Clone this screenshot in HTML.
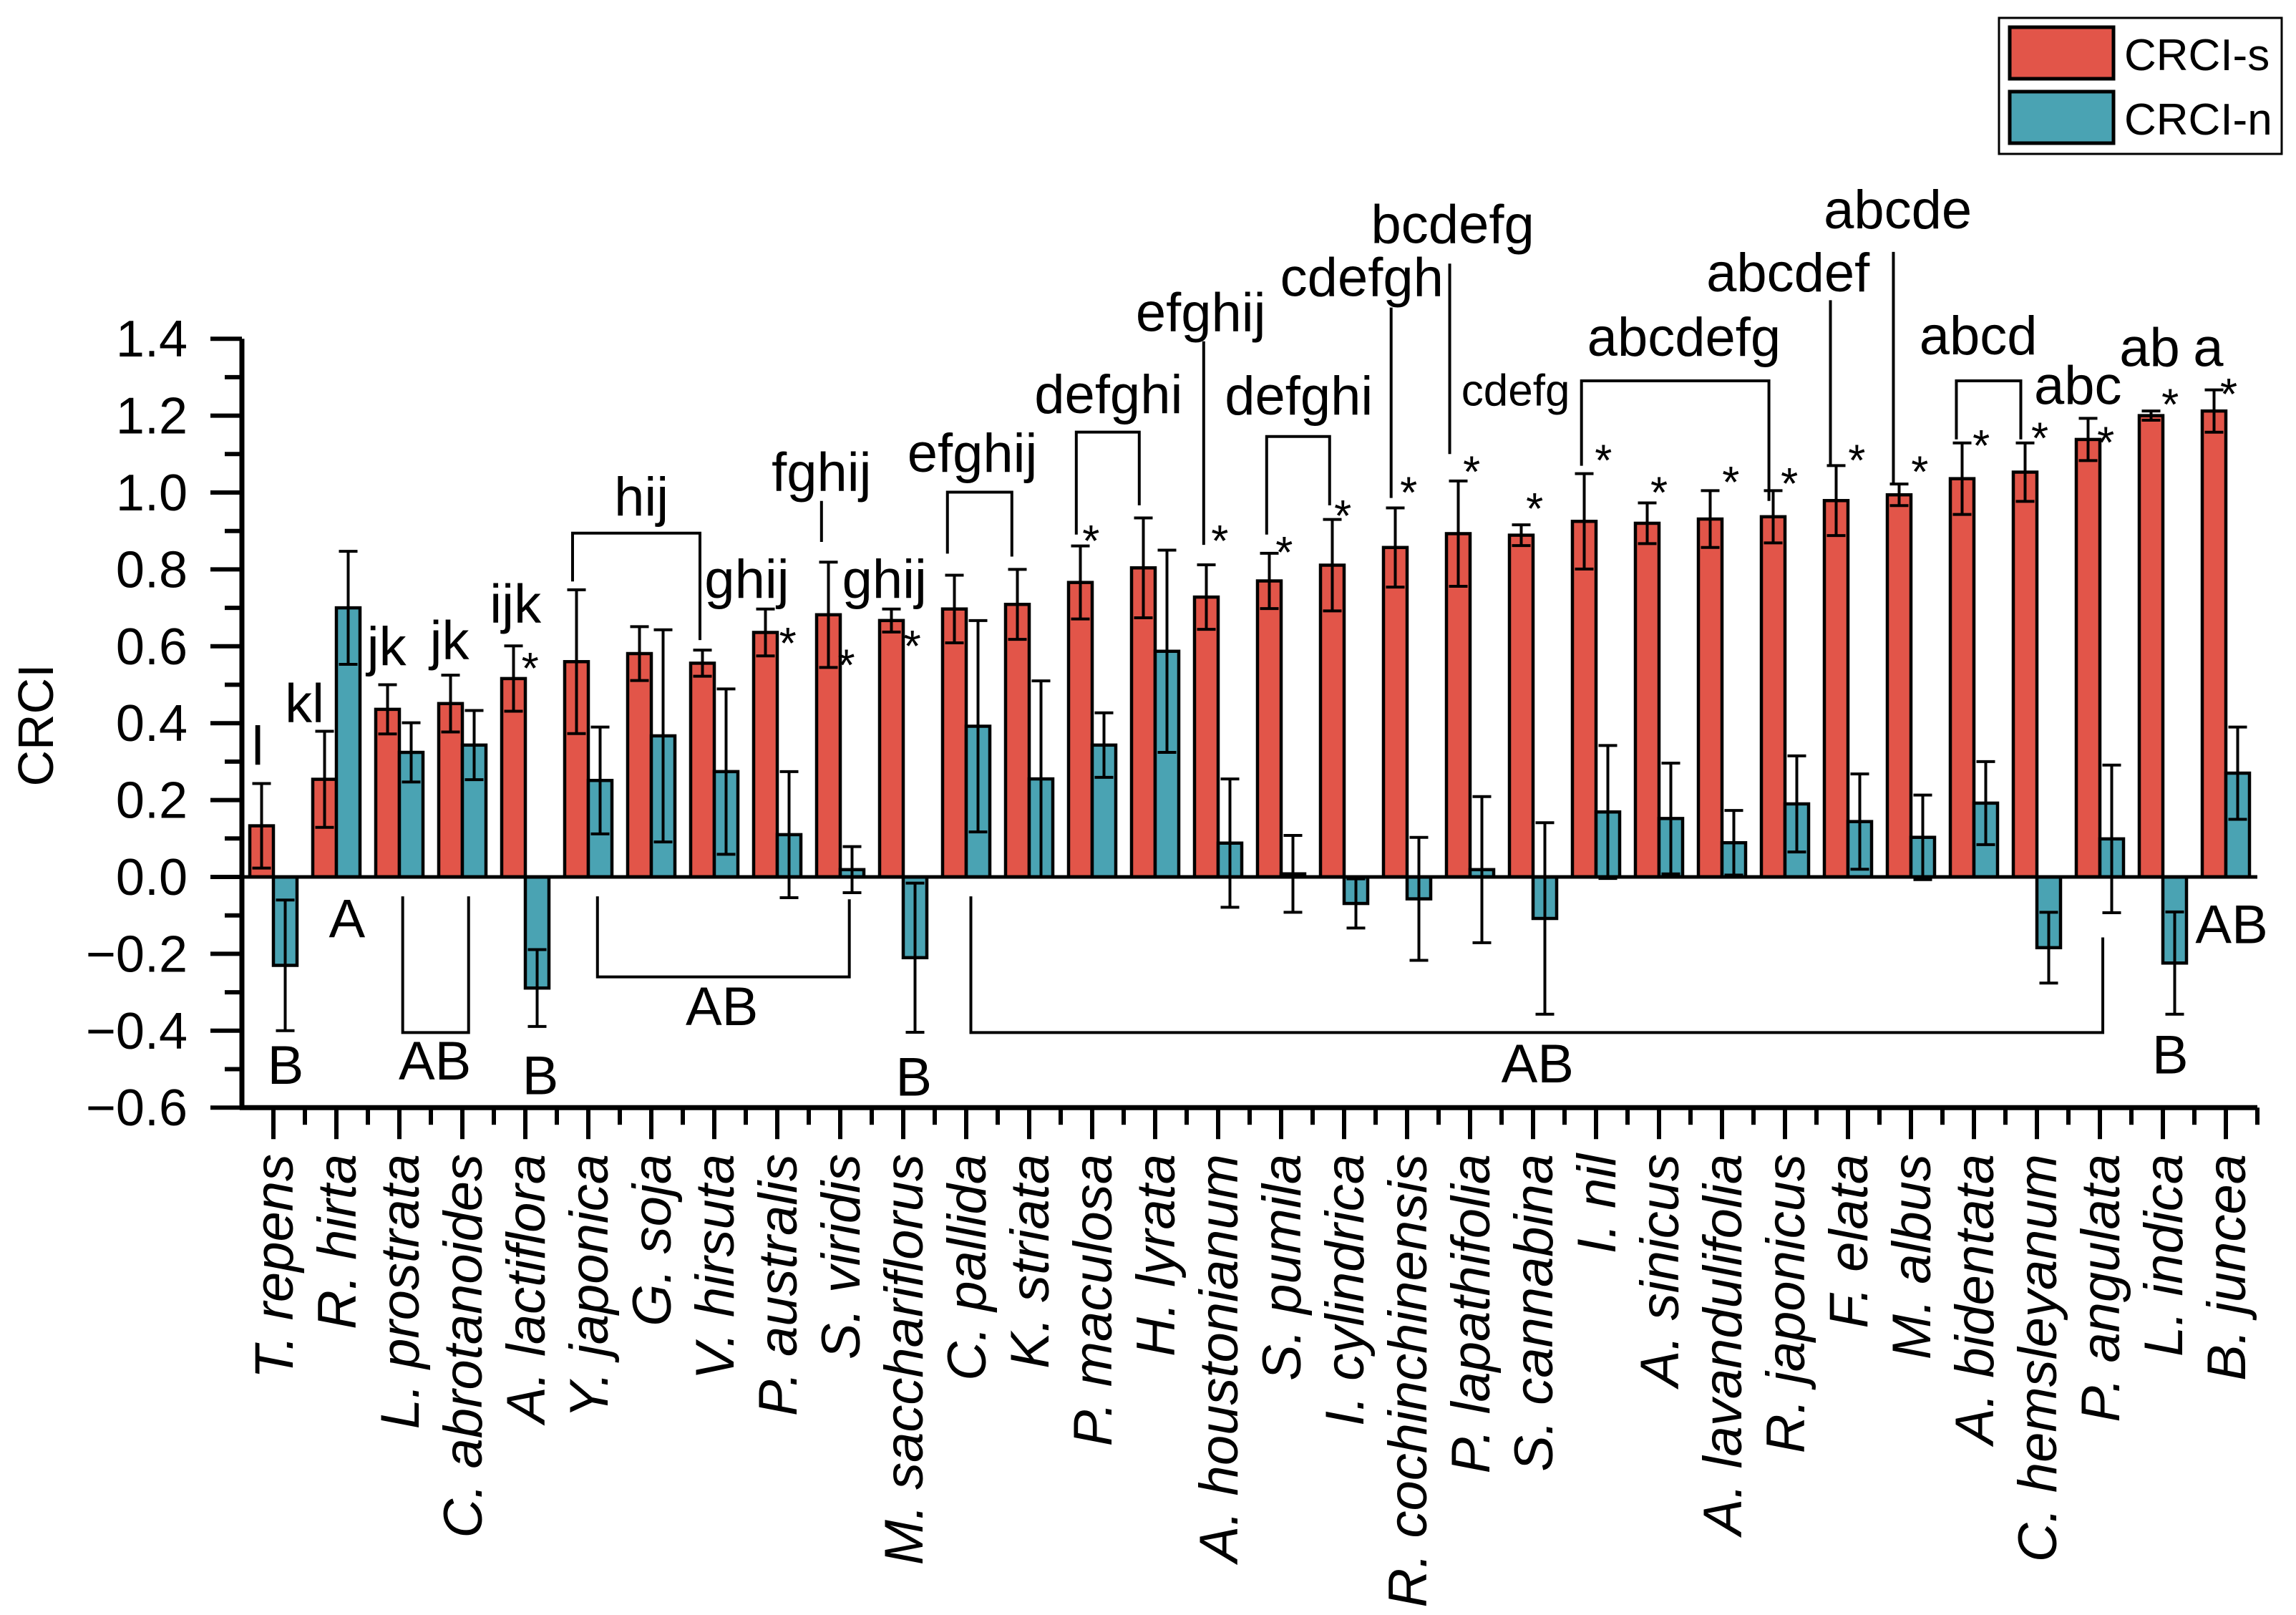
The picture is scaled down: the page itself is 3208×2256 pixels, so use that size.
<!DOCTYPE html>
<html><head><meta charset="utf-8"><style>
html,body{margin:0;padding:0;background:#fff;}
svg{display:block;}
text{font-family:"Liberation Sans",Arial,sans-serif;fill:#000;}
</style></head><body>
<svg id="chart" width="3208" height="2256" viewBox="0 0 3208 2256" xmlns="http://www.w3.org/2000/svg">
<rect x="0" y="0" width="3208" height="2256" fill="#fff"/>
<g id="plot"></g>
<g id="legend">
  <rect x="2793" y="25" width="395" height="190" fill="#fff" stroke="#000" stroke-width="3"/>
  <rect x="2808" y="38" width="145" height="72" fill="#E25549" stroke="#000" stroke-width="5"/>
  <text x="2968" y="98" font-size="62">CRCI-s</text>
  <rect x="2808" y="128" width="145" height="72" fill="#4AA3B3" stroke="#000" stroke-width="5"/>
  <text x="2968" y="188" font-size="62">CRCI-n</text>
</g>
</svg>
<script>
const categories = ["T. repens","R. hirta","L. prostrata","C. abrotanoides","A. lactiflora","Y. japonica","G. soja","V. hirsuta","P. australis","S. viridis","M. sacchariflorus","C. pallida","K. striata","P. maculosa","H. lyrata","A. houstonianum","S. pumila","I. cylindrica","R. cochinchinensis","P. lapathifolia","S. cannabina","I. nil","A. sinicus","A. lavandulifolia","R. japonicus","F. elata","M. albus","A. bidentata","C. hemsleyanum","P. angulata","L. indica","B. juncea"];
const crciS = [0.133,0.254,0.436,0.451,0.516,0.56,0.581,0.556,0.636,0.682,0.667,0.697,0.709,0.766,0.804,0.728,0.77,0.811,0.857,0.893,0.889,0.925,0.92,0.931,0.937,0.979,0.994,1.036,1.053,1.138,1.2,1.212];
const crciSErr = [0.11,0.125,0.064,0.074,0.085,0.187,0.07,0.034,0.061,0.137,0.03,0.088,0.091,0.095,0.13,0.084,0.072,0.119,0.103,0.137,0.027,0.124,0.053,0.074,0.068,0.091,0.028,0.093,0.076,0.055,0.012,0.055];
const crciN = [-0.23,0.70,0.324,0.343,-0.289,0.251,0.367,0.274,0.11,0.019,-0.21,0.392,0.255,0.343,0.587,0.088,0.008,-0.069,-0.057,0.019,-0.108,0.169,0.152,0.089,0.19,0.144,0.103,0.192,-0.184,0.099,-0.224,0.27];
const crciNErr = [0.17,0.147,0.077,0.09,0.1,0.139,0.276,0.215,0.164,0.06,0.194,0.275,0.255,0.084,0.263,0.167,0.1,0.064,0.16,0.19,0.249,0.173,0.144,0.084,0.125,0.124,0.11,0.108,0.092,0.192,0.133,0.12];
const yTicks = [1.4,1.2,1.0,0.8,0.6,0.4,0.2,0.0,-0.2,-0.4,-0.6];
const yTickLabels = ["1.4","1.2","1.0","0.8","0.6","0.4","0.2","0.0","\u22120.2","\u22120.4","\u22120.6"];

const NS="http://www.w3.org/2000/svg";
const plot=document.getElementById('plot');
const X0=338, GW=88, BW=33, Y0=1225, PPU=537;
const yMin=-0.6, yMax=1.4;
function ys(v){return Y0 - v*PPU;}
function cx(i){return X0 + GW*(i+0.5);}
const XEND = X0 + GW*categories.length;
const K = 2.046;
function mk(tag, attrs, parent){const e=document.createElementNS(NS,tag);for(const k in attrs)e.setAttribute(k,attrs[k]);(parent||plot).appendChild(e);return e;}

categories.forEach((c,i)=>{
  const g=mk('g',{});
  
  
  const series=[[crciS[i],crciSErr[i],'#E25549',cx(i)-BW,'crci-s'],[crciN[i],crciNErr[i],'#4AA3B3',cx(i),'crci-n']];
  series.forEach(s=>{
    const v=s[0], e=s[1];
    const top=Math.min(ys(v),ys(0)), h=Math.abs(ys(v)-ys(0));
    const r=mk('rect',{x:s[3],y:top,width:BW,height:h,fill:s[2],stroke:'#000','stroke-width':4.5},g);
    
    
    const mx=s[3]+BW/2;
    const a=ys(v+e), b=ys(v-e);
    const eb=mk('g',{stroke:'#000','stroke-width':4},g);
    
    
    mk('line',{x1:mx,x2:mx,y1:a,y2:b},eb);
    mk('line',{x1:mx-13,x2:mx+13,y1:a,y2:a},eb);
    mk('line',{x1:mx-13,x2:mx+13,y1:b,y2:b},eb);
  });
  const t=mk('text',{x:0,y:0,'font-size':76,'font-style':'italic','text-anchor':'end',transform:'translate('+(cx(i)+27)+',1612) rotate(-90)'});
  t.textContent=c;
  
  
});

// significance stars (display coords)
const stars=[[362,452],[538,435],[578,450],[623,437],[745,365],[833,365],[877,373],[917,348],[962,332],[1005,318],[1048,343],[1095,310],[1133,332],[1182,325],[1222,326],[1268,310],[1311,318],[1353,300],[1393,295],[1438,298],[1482,272],[1522,265]];
stars.forEach((s,k)=>{
  const st=mk('text',{x:s[0]*K,y:s[1]*K+30,'font-size':62,'text-anchor':'middle'});
  st.textContent='*';
  
  
});

const zl=mk('line',{x1:X0,x2:XEND,y1:ys(0),y2:ys(0),stroke:'#000','stroke-width':5});



const ya=mk('line',{x1:X0,x2:X0,y1:ys(yMax),y2:ys(yMin)+3,stroke:'#000','stroke-width':7});


const xa=mk('line',{x1:X0-3,x2:XEND,y1:ys(yMin),y2:ys(yMin),stroke:'#000','stroke-width':7});



yTicks.forEach((v,k)=>{
  const tk=mk('line',{x1:X0-44,x2:X0,y1:ys(v),y2:ys(v),stroke:'#000','stroke-width':6});
  
  
  if(k<yTicks.length-1){
    const m=mk('line',{x1:X0-24,x2:X0,y1:ys(v-0.1),y2:ys(v-0.1),stroke:'#000','stroke-width':6});
    
    
  }
  const tl=mk('text',{x:262,y:ys(v)+25,'font-size':72,'text-anchor':'end'});
  tl.textContent=yTickLabels[k];
  
  
});
for(let i=0;i<=categories.length;i++){
  if(i>0){const m=mk('line',{x1:X0+GW*i,x2:X0+GW*i,y1:ys(yMin),y2:ys(yMin)+24,stroke:'#000','stroke-width':6});
  
  }
  if(i<categories.length){const t=mk('line',{x1:cx(i),x2:cx(i),y1:ys(yMin),y2:ys(yMin)+44,stroke:'#000','stroke-width':6});
  
  }
}
const yt=mk('text',{x:0,y:0,'font-size':70,'text-anchor':'middle',transform:'translate(74,1013) rotate(-90)'});
yt.textContent='CRCI';



const letters=[["l",176,522],["kl",208,493],["jk",264,454],["jk",307,450],["ijk",352,425],["hij",438,352],["ghij",510,408],["fghij",561,335],["ghij",604,408],["efghij",664,322],["defghi",757,282],["efghij",820,226],["defghi",887,283],["cdefgh",930,202],["bcdefg",992,166],["abcdefg",1150,243],["abcdef",1221,199],["abcde",1296,156],["abcd",1351,242],["abc",1419,276],["ab",1468,250],["a",1508,250],
["B",195,740],["A",237,640],["AB",297,737],["B",369,747],["AB",493,700],["B",624,748],["AB",1050,739],["B",1482,733],["AB",1524,644]];
letters.forEach((l,k)=>{
  const t=mk('text',{x:l[1]*K,y:l[2]*K,'font-size':76,'text-anchor':'middle'});
  t.textContent=l[0];
  
  
});
const sm=mk('text',{x:1035*K,y:277*K,'font-size':62,'text-anchor':'middle'});
sm.textContent='cdefg';



const brackets=[
 [[391,397],[391,364],[478,364],[478,437]],
 [[647,378],[647,336],[691,336],[691,380]],
 [[735,365],[735,295],[778,295],[778,345]],
 [[865,365],[865,298],[908,298],[908,345]],
 [[1080,318],[1080,260],[1208,260],[1208,342]],
 [[1336,300],[1336,260],[1380,260],[1380,300]],
 [[561,342],[561,370]],[[822,233],[822,372]],[[950,210],[950,340]],[[990,180],[990,310]],[[1250,205],[1250,318]],[[1293,172],[1293,330]],
 [[275,612],[275,705],[320,705],[320,612]],
 [[408,612],[408,667],[580,667],[580,614]],
 [[663,612],[663,705],[1436,705],[1436,640]]
];
brackets.forEach((b,k)=>{
  const p=mk('polyline',{points:b.map(q=>(q[0]*K)+','+(q[1]*K)).join(' '),fill:'none',stroke:'#000','stroke-width':4});
  
  
});
</script>
</body></html>
